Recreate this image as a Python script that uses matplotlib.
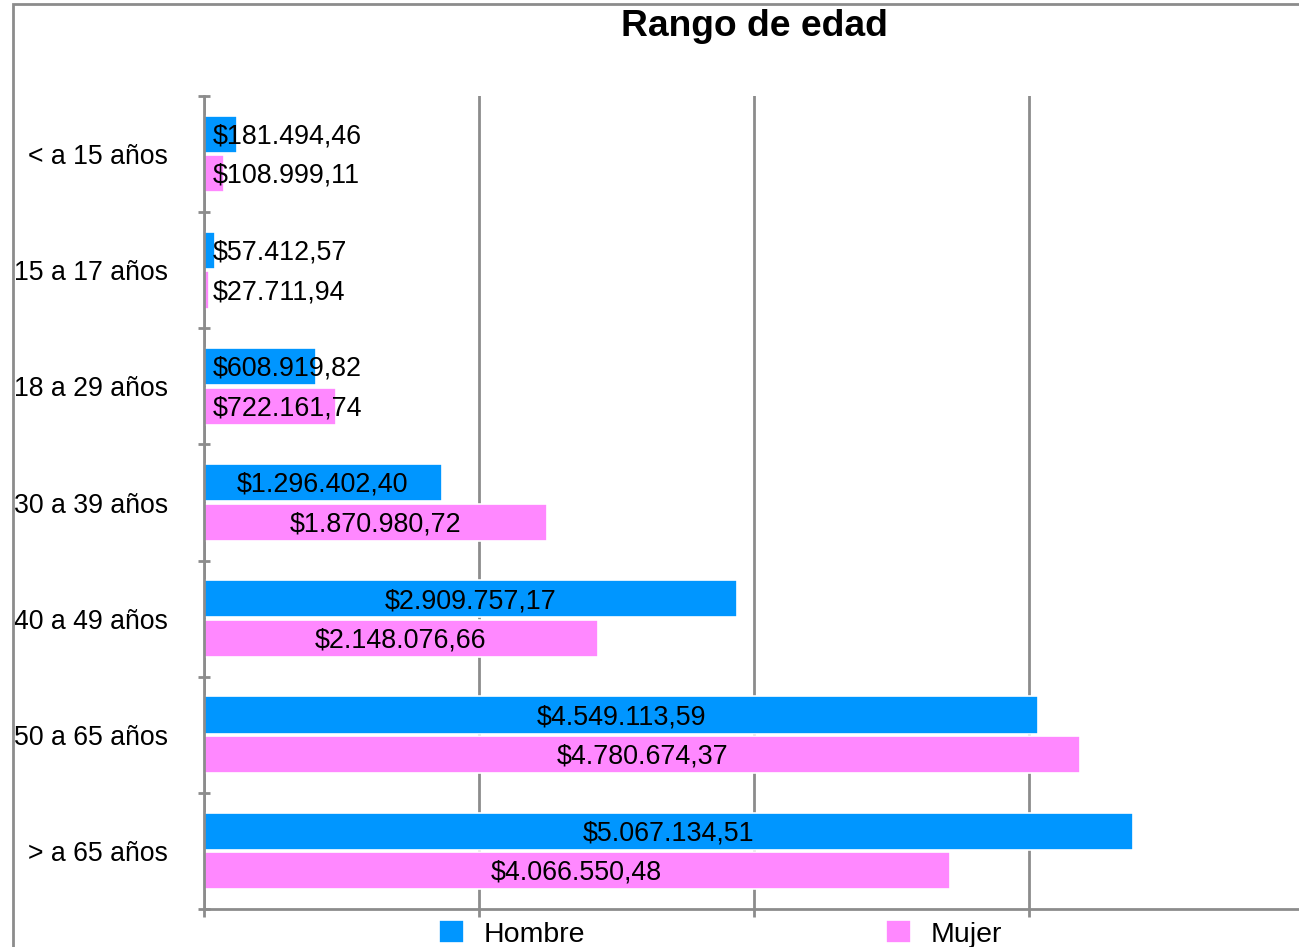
import matplotlib.pyplot as plt
from matplotlib.patches import Rectangle

categorias = ["< a 15 años", "15 a 17 años", "18 a 29 años", "30 a 39 años",
              "40 a 49 años", "50 a 65 años", "> a 65 años"]
hombre = [181494.46, 57412.57, 608919.82, 1296402.40, 2909757.17, 4549113.59, 5067134.51]
mujer = [108999.11, 27711.94, 722161.74, 1870980.72, 2148076.66, 4780674.37, 4066550.48]
etiquetas_h = ["$181.494,46", "$57.412,57", "$608.919,82", "$1.296.402,40",
               "$2.909.757,17", "$4.549.113,59", "$5.067.134,51"]
etiquetas_m = ["$108.999,11", "$27.711,94", "$722.161,74", "$1.870.980,72",
               "$2.148.076,66", "$4.780.674,37", "$4.066.550,48"]

AZUL = "#0096FF"
ROSA = "#FF88FF"
GRIS = "#8c8c8c"

plt.rcParams['font.family'] = ['Liberation Sans', 'DejaVu Sans']

W, H = 1299, 947
fig = plt.figure(figsize=(W / 100, H / 100), dpi=100)

# marco exterior (cortado a la derecha y abajo)
fig.patches.append(Rectangle((13 / W, -0.1), 1.2, 1 - 4 / H + 0.1,
                             transform=fig.transFigure, fill=False,
                             edgecolor=GRIS, linewidth=2))

ax = fig.add_axes([204 / W, 38 / H, 1100 / W, 813 / H])
ax.set_xlim(0, 6000000)
ax.set_ylim(6.5, -0.5)

y = list(range(len(categorias)))
alto = 0.32
desp = 0.17
ax.barh([v - desp for v in y], hombre, height=alto, color=AZUL,
        edgecolor="white", linewidth=1.2, label="Hombre", zorder=2)
ax.barh([v + desp for v in y], mujer, height=alto, color=ROSA,
        edgecolor="white", linewidth=1.2, label="Mujer", zorder=2)

# etiquetas de valor: centradas si caben, si no al inicio de la barra
fs = 19.4
for vals, labs, off in [(hombre, etiquetas_h, -desp), (mujer, etiquetas_m, desp)]:
    for i, (v, t) in enumerate(zip(vals, labs)):
        if v > 1000000:
            ax.annotate(t, (v / 2, i + off), xytext=(0, -0.34 * fs),
                        textcoords="offset points", ha="center", va="baseline",
                        fontsize=fs, zorder=3)
        else:
            ax.annotate(t, (0, i + off), xytext=(6.5, -0.34 * fs),
                        textcoords="offset points", ha="left", va="baseline",
                        fontsize=fs, zorder=3)

for s in ["top", "right"]:
    ax.spines[s].set_visible(False)
for s in ["left", "bottom"]:
    ax.spines[s].set_color(GRIS)
    ax.spines[s].set_linewidth(2)
    ax.spines[s].set_zorder(2.5)

ax.set_xticks([0, 1500000, 3000000, 4500000])
ax.set_xticklabels([])
ax.tick_params(axis="x", length=6, width=2, color=GRIS, direction="out")
ax.grid(axis="x", color=GRIS, linewidth=2, zorder=0)
ax.set_axisbelow(True)

ax.set_yticks([v - 0.5 for v in range(len(categorias) + 1)])
ax.set_yticklabels([])
ax.set_yticks(y, minor=True)
ax.set_yticklabels(categorias, minor=True, fontsize=19.2)
ax.tick_params(axis="y", which="major", length=9, width=2, color=GRIS, direction="inout")
ax.tick_params(axis="y", which="minor", length=0, pad=26)

fig.text(754 / W, 1 - 26 / H, "Rango de edad", ha="center", va="center",
         fontsize=26.8, fontweight="bold")

fig.legend(loc="center", bbox_to_anchor=(720.5 / W, 1 - 934 / H), ncol=2,
           frameon=False, fontsize=20.5, handlelength=0.87, handleheight=0.87,
           handletextpad=0.67, columnspacing=10.6, borderpad=0)

fig.savefig("out.png", dpi=100)
